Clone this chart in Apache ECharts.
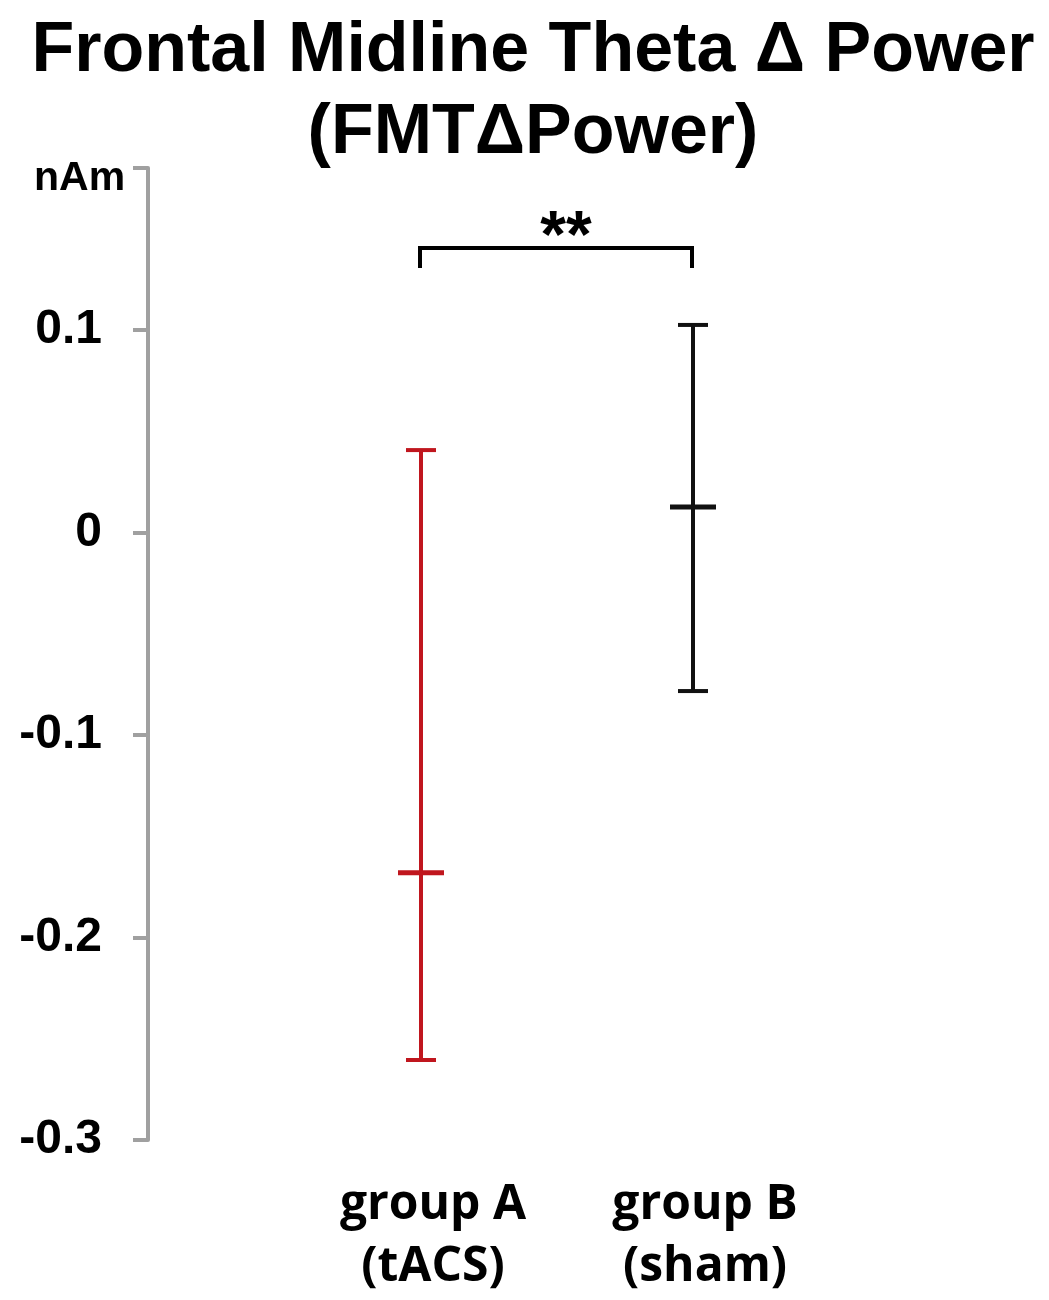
<!DOCTYPE html>
<html><head><meta charset="utf-8">
<script src="https://cdn.jsdelivr.net/npm/echarts@6/dist/echarts.min.js"></script>
<style>html,body{margin:0;padding:0;background:#fff}#c{width:1049px;height:1300px}</style>
</head><body><div id="c"></div>
<script>
const categories = ['group A\n(tACS)', 'group B\n(sham)'];
const means = [-0.168, 0.0126];
const lows = [-0.2605, -0.0783];
const highs = [0.0407, 0.1025];
const colors = ['#c0161e', '#111111'];
const yTicks = [-0.3, -0.2, -0.1, 0, 0.1];
const sigLevel = 0.1405;
const sigLabel = '**';

const chart = echarts.init(document.getElementById('c'), null, {renderer: 'canvas'});
const errData = categories.map((c, i) => [i + 1, means[i], lows[i], highs[i], i]);

chart.setOption({
  animation: false,
  backgroundColor: '#fff',
  title: {
    text: 'Frontal Midline Theta Δ Power\n(FMTΔPower)',
    left: 528, top: 6, textAlign: 'center',
    textStyle: {fontFamily: 'Liberation Sans', fontWeight: 'bold', fontSize: 70, lineHeight: 82, color: '#000'}
  },
  graphic: [{
    type: 'text', left: 34, top: 158,
    style: {text: 'nAm', font: 'bold 41px "Liberation Sans"', fill: '#000'}
  }],
  grid: {left: 148, right: 85, top: 168, bottom: 160, containLabel: false},
  xAxis: {
    type: 'value', min: 0, max: 3, interval: 1,
    axisLine: {show: false}, axisTick: {show: false}, splitLine: {show: false},
    axisLabel: {
      margin: 34,
      fontFamily: 'Open Sans', fontWeight: 'bold', fontSize: 48, lineHeight: 62, color: '#000',
      padding: [0, 0, 0, 26],
      formatter: v => (v >= 1 && v <= categories.length) ? categories[v - 1] : ''
    }
  },
  yAxis: {
    type: 'value', min: -0.3, max: 0.18, interval: 0.1,
    axisLine: {show: true, lineStyle: {color: '#a0a0a0', width: 4}},
    axisTick: {show: true, length: 15, lineStyle: {color: '#a0a0a0', width: 4}},
    splitLine: {show: false},
    axisLabel: {
      margin: 46, fontFamily: 'Liberation Sans', fontWeight: 'bold', fontSize: 48, color: '#000',
      formatter: v => {
        const r = Math.round(v * 10) / 10;
        if (!yTicks.some(t => Math.abs(t - r) < 1e-9) || Math.abs(v - r) > 1e-6) return '';
        return r === 0 ? '0' : r.toFixed(1);
      }
    }
  },
  series: [{
    type: 'custom',
    data: errData,
    encode: {x: 0, y: [1, 2, 3]},
    renderItem: (params, api) => {
      const x = api.value(0), m = api.value(1), lo = api.value(2), hi = api.value(3);
      const col = colors[api.value(4)];
      const pLo = api.coord([x, lo]), pHi = api.coord([x, hi]), pM = api.coord([x, m]);
      const cx = pM[0] + 1;
      const st = {stroke: col, lineWidth: 4};
      return {type: 'group', children: [
        {type: 'line', shape: {x1: cx, y1: pLo[1], x2: cx, y2: pHi[1]}, style: st},
        {type: 'line', shape: {x1: cx - 15, y1: pLo[1], x2: cx + 15, y2: pLo[1]}, style: st},
        {type: 'line', shape: {x1: cx - 15, y1: pHi[1], x2: cx + 15, y2: pHi[1]}, style: st},
        {type: 'line', shape: {x1: cx - 23, y1: pM[1], x2: cx + 23, y2: pM[1]}, style: {stroke: col, lineWidth: 5}}
      ]};
    }
  }, {
    type: 'custom',
    data: [[1, 2, sigLevel]],
    encode: {x: [0, 1], y: 2},
    renderItem: (params, api) => {
      const p1 = api.coord([api.value(0), api.value(2)]);
      const p2 = api.coord([api.value(1), api.value(2)]);
      const st = {stroke: '#000', lineWidth: 4, fill: null};
      return {type: 'group', children: [
        {type: 'polyline', shape: {points: [[p1[0], p1[1] + 20], [p1[0], p1[1]], [p2[0], p2[1]], [p2[0], p2[1] + 20]]}, style: st},
        {type: 'text', x: (p1[0] + p2[0]) / 2 + 10, y: p1[1] + 24, style: {text: sigLabel, font: 'bold 66px "Liberation Sans"', fill: '#000', align: 'center', verticalAlign: 'bottom'}}
      ]};
    }
  }]
});
</script></body></html>
